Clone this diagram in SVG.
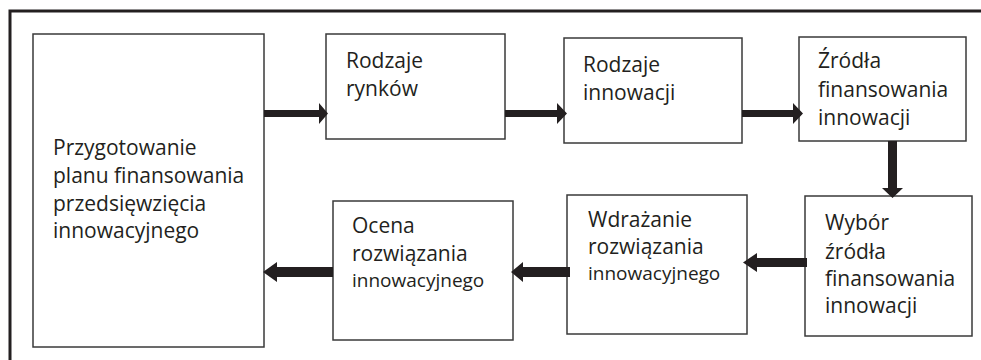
<svg xmlns="http://www.w3.org/2000/svg" width="981" height="360" viewBox="0 0 981 360">
<style>
.box{fill:#fff;stroke:#3a3a3a;stroke-width:1.5}
.t{font-family:"Open Sans","Liberation Sans",sans-serif;font-size:21px;fill:#231f20}
.s{font-size:19px}
.arr{fill:#231f20}
</style>
<rect width="981" height="360" fill="#fff"/>
<rect x="10" y="11" width="990" height="380" fill="none" stroke="#231f20" stroke-width="3"/>
<g id="n1"><rect class="box" x="33" y="34" width="231" height="313"/>
<text class="t" x="53"><tspan x="53" y="155">Przygotowanie</tspan><tspan x="53" y="183">planu finansowania</tspan><tspan x="53" y="211">przedsięwzięcia</tspan><tspan x="53" y="238">innowacyjnego</tspan></text></g>
<g id="n2"><rect class="box" x="326" y="34" width="179" height="105"/>
<text class="t"><tspan x="346" y="68">Rodzaje</tspan><tspan x="346" y="96">rynków</tspan></text></g>
<g id="n3"><rect class="box" x="564" y="38" width="178" height="105"/>
<text class="t"><tspan x="583" y="72">Rodzaje</tspan><tspan x="583" y="100">innowacji</tspan></text></g>
<g id="n4"><rect class="box" x="799" y="37" width="167" height="104"/>
<text class="t"><tspan x="818" y="68">Źródła</tspan><tspan x="818" y="97">finansowania</tspan><tspan x="818" y="125">innowacji</tspan></text></g>
<g id="n5"><rect class="box" x="805" y="196" width="167" height="140"/>
<text class="t"><tspan x="825" y="230">Wybór</tspan><tspan x="825" y="259">źródła</tspan><tspan x="825" y="286">finansowania</tspan><tspan x="825" y="313">innowacji</tspan></text></g>
<g id="n6"><rect class="box" x="567" y="195" width="180" height="139"/>
<text class="t"><tspan x="588" y="227">Wdrażanie</tspan><tspan x="588" y="254">rozwiązania</tspan><tspan class="s" x="588" y="280">innowacyjnego</tspan></text></g>
<g id="n7"><rect class="box" x="333" y="201" width="180" height="139"/>
<text class="t"><tspan x="352" y="233">Ocena</tspan><tspan x="352" y="261">rozwiązania</tspan><tspan class="s" x="352" y="287">innowacyjnego</tspan></text></g>
<g id="connectors">
<polygon class="arr" points="264,110 319,110 319,103 328,113.5 319,124 319,117 264,117"/>
<polygon class="arr" points="505,110 557,110 557,103 567,113.5 557,124 557,117 505,117"/>
<polygon class="arr" points="742,110 793,110 793,103 803,113.5 793,124 793,117 742,117"/>
<polygon class="arr" points="888,141 897,141 897,188 903,188 892.5,198 882,188 888,188"/>
<polygon class="arr" points="807,258 757,258 757,253 743,262.5 757,272 757,267 807,267"/>
<polygon class="arr" points="570,267 523,267 523,262 511,272 523,282 523,277 570,277"/>
<polygon class="arr" points="333,267 277,267 277,262 263,272 277,282 277,277 333,277"/>
</g>
</svg>
